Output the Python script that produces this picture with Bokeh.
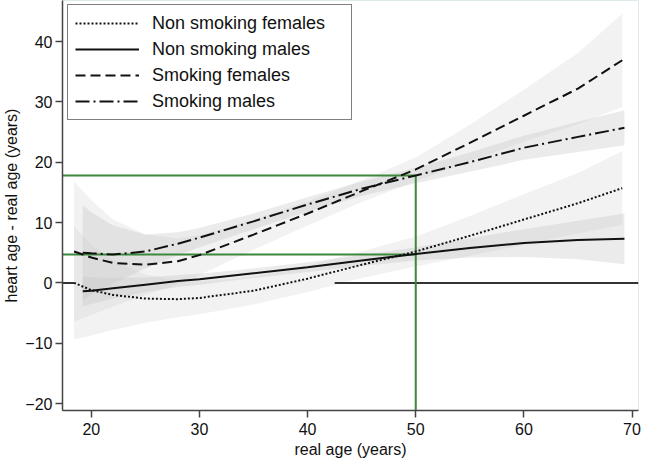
from bokeh.plotting import figure
from bokeh.models import Range1d, FixedTicker, Legend, LegendItem
from bokeh.embed import file_html
from bokeh.resources import INLINE

# ---- data ----
x_f = [18.4, 20, 22, 25, 28, 30, 35, 40, 45, 50, 55, 60, 65, 69.1]
x_m = [19.2, 20, 22, 25, 28, 30, 35, 40, 45, 50, 55, 60, 65, 69.3]

nsf_line = [0, -1.2, -2.0, -2.6, -2.7, -2.5, -1.3, 0.7, 3.0, 5.2, 7.8, 10.5, 13.2, 15.7]
nsf_upper = [9.4, 6.3, 3.8, 1.4, 0.3, 0.2, 1.0, 2.9, 5.2, 7.7, 11.1, 14.7, 18.2, 21.8]
nsf_lower = [-9.4, -8.7, -7.8, -6.6, -5.7, -5.2, -3.6, -1.5, 0.8, 2.7, 4.5, 6.3, 8.2, 9.6]

nsm_line = [-1.4, -1.3, -0.9, -0.3, 0.3, 0.6, 1.6, 2.6, 3.7, 4.8, 5.8, 6.6, 7.1, 7.3]
nsm_upper = [1.1, 0.9, 0.8, 0.9, 1.3, 1.5, 2.4, 3.4, 4.6, 5.9, 7.4, 8.9, 10.3, 11.5]
nsm_lower = [-3.9, -3.5, -2.6, -1.5, -0.7, -0.3, 0.8, 1.8, 2.8, 3.7, 4.2, 4.3, 3.9, 3.1]

sf_line = [5.2, 4.2, 3.3, 3.0, 3.6, 4.6, 8.0, 11.5, 15.2, 18.8, 23.2, 27.7, 32.2, 36.9]
sf_upper = [16.8, 13.7, 10.5, 8.0, 7.4, 7.9, 10.5, 13.5, 17.0, 20.8, 26.2, 32.0, 38.1, 44.6]
sf_lower = [-6.4, -5.3, -3.9, -2.0, -0.2, 1.3, 5.5, 9.5, 13.4, 16.8, 20.2, 23.4, 26.3, 29.2]

sm_line = [5.0, 4.9, 4.7, 5.2, 6.5, 7.5, 10.2, 13.0, 15.6, 17.8, 20.0, 22.4, 24.2, 25.7]
sm_upper = [12.9, 11.7, 9.5, 8.0, 8.4, 9.1, 11.5, 14.2, 16.8, 19.1, 21.6, 24.4, 26.7, 28.6]
sm_lower = [-2.9, -1.9, -0.1, 2.4, 4.6, 5.9, 8.9, 11.8, 14.4, 16.5, 18.4, 20.4, 21.7, 22.8]

labels = ["Non smoking females", "Non smoking males", "Smoking females", "Smoking males"]

x_ticks = [20, 30, 40, 50, 60, 70]
y_ticks = [-20, -10, 0, 10, 20, 30, 40]

x_lo, x_hi = 17.33, 70.6
y_lo, y_hi = -21.15, 46.8

# reference lines
zero_x0 = [x_lo, 42.5]
zero_x1 = [18.4, x_hi]
zero_y = [0, 0]
green_h_y = [17.8, 4.7]
green_x = 50

FONT = "Liberation Sans"

p = figure(width=642, height=460,
           x_range=Range1d(x_lo, x_hi), y_range=Range1d(y_lo, y_hi),
           output_backend="svg", toolbar_location=None,
           min_border_left=61, min_border_right=4,
           min_border_top=0, min_border_bottom=49)

p.xgrid.visible = False
p.ygrid.visible = False
p.outline_line_color = "#dfe8ea"
p.background_fill_color = "white"

# confidence bands
band_color = "#c4c4c4"
p.varea(x=x_f, y1=nsf_lower, y2=nsf_upper, fill_color=band_color, fill_alpha=0.22)
p.varea(x=x_f, y1=sf_lower, y2=sf_upper, fill_color=band_color, fill_alpha=0.22)
p.varea(x=x_m, y1=nsm_lower, y2=nsm_upper, fill_color=band_color, fill_alpha=0.34)
p.varea(x=x_m, y1=sm_lower, y2=sm_upper, fill_color=band_color, fill_alpha=0.34)

# zero line
p.segment(x0=zero_x0, y0=zero_y, x1=zero_x1, y1=zero_y, line_color="#333333", line_width=2)

# green reference lines
green = "#3b873b"
p.segment(x0=[x_lo, x_lo], y0=green_h_y, x1=[green_x, green_x], y1=green_h_y,
          line_color=green, line_width=2)
p.segment(x0=[green_x], y0=[y_lo], x1=[green_x], y1=[green_h_y[0]],
          line_color=green, line_width=2)

# curves
r_nsf = p.line(x_f, nsf_line, line_color="#111111", line_width=2, line_dash="2 2")
r_nsm = p.line(x_m, nsm_line, line_color="#111111", line_width=2)
r_sf = p.line(x_f, sf_line, line_color="#111111", line_width=2, line_dash="10 5")
r_sm = p.line(x_m, sm_line, line_color="#111111", line_width=2, line_dash="14 4 2 4")

legend = Legend(items=[LegendItem(label=labels[0], renderers=[r_nsf]),
                       LegendItem(label=labels[1], renderers=[r_nsm]),
                       LegendItem(label=labels[2], renderers=[r_sf]),
                       LegendItem(label=labels[3], renderers=[r_sm])],
                location=(5, 290))
legend.border_line_color = "black"
legend.border_line_width = 1
legend.background_fill_color = "white"
legend.background_fill_alpha = 1
legend.label_text_font = FONT
legend.label_text_font_size = "18px"
legend.label_text_color = "#111111"
legend.glyph_width = 64
legend.glyph_height = 22
legend.label_height = 22
legend.label_width = 192
legend.spacing = 4
legend.padding = 7
legend.margin = 0
legend.label_standoff = 13
p.add_layout(legend)

# axes
for ax in (p.xaxis[0], p.yaxis[0]):
    ax.axis_line_color = "#444444"
    ax.axis_line_width = 1.5
    ax.major_tick_line_color = "#444444"
    ax.major_tick_line_width = 1.5
    ax.major_tick_in = 0
    ax.major_tick_out = 7
    ax.minor_tick_line_color = None
    ax.major_label_text_font = FONT
    ax.major_label_text_font_size = "16px"
    ax.major_label_text_color = "#111111"
    ax.axis_label_text_font = FONT
    ax.axis_label_text_font_size = "16px"
    ax.axis_label_text_font_style = "normal"
    ax.axis_label_text_color = "#111111"

p.xaxis.ticker = FixedTicker(ticks=x_ticks)
p.yaxis.ticker = FixedTicker(ticks=y_ticks)
p.xaxis.axis_label = "real age (years)"
p.yaxis.axis_label = "heart age - real age (years)"
p.xaxis.major_label_standoff = 5
p.xaxis.axis_label_standoff = 3
p.yaxis.major_label_standoff = 3
p.yaxis.axis_label_standoff = 2

open("out.html", "w").write(file_html(p, INLINE))
